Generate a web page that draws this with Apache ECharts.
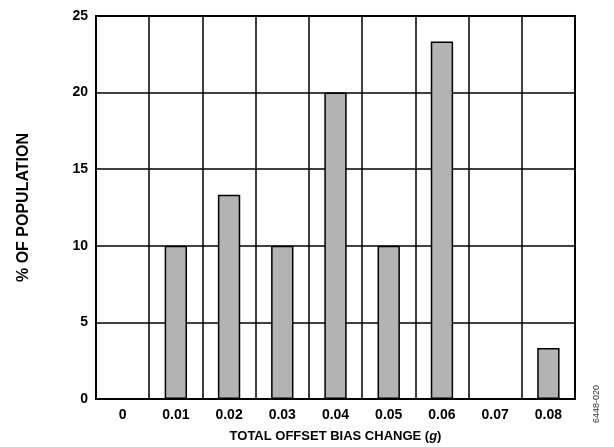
<!DOCTYPE html>
<html><head><meta charset="utf-8">
<script src="https://cdn.jsdelivr.net/npm/echarts@6/dist/echarts.min.js"></script>
<style>html,body{margin:0;padding:0;background:#fff}#c{width:614px;height:447px}</style>
</head><body><div id="c"></div>
<script>
const categories = ['0','0.01','0.02','0.03','0.04','0.05','0.06','0.07','0.08'];
const values = [0, 10, 13.33, 10, 20, 10, 23.33, 0, 3.33];
const yTicks = [0, 5, 10, 15, 20, 25];
const F = '"Liberation Sans", Arial, sans-serif';
const chart = echarts.init(document.getElementById('c'));
chart.setOption({
  animation: false,
  grid: {left: 96, right: 39, top: 16, bottom: 48, outerBoundsMode: 'none', containLabel: false,
    show: true, borderColor: '#000', borderWidth: 2, backgroundColor: 'transparent'},
  xAxis: {
    type: 'category', data: categories,
    axisLine: {show: true, lineStyle: {color: '#000', width: 2}},
    axisTick: {show: false},
    axisLabel: {color: '#000', fontFamily: F, fontWeight: 'bold', fontSize: 14, margin: 9},
    splitLine: {show: true, lineStyle: {color: '#000', width: 1.5}},
    name: '{a|TOTAL OFFSET BIAS CHANGE (}{b|g}{a|)}',
    nameLocation: 'middle', nameGap: 31,
    nameTextStyle: {rich: {
      a: {fontFamily: F, fontWeight: 'bold', fontSize: 13, color: '#000'},
      b: {fontFamily: F, fontWeight: 'bold', fontStyle: 'italic', fontSize: 13, color: '#000'}
    }}
  },
  yAxis: {
    type: 'value', min: 0, max: 25, interval: 5,
    axisLine: {show: true, lineStyle: {color: '#000', width: 2}},
    axisTick: {show: false},
    axisLabel: {color: '#000', fontFamily: F, fontWeight: 'bold', fontSize: 14, margin: 8,
      formatter: v => yTicks.includes(v) ? String(v) : ''},
    splitLine: {show: true, lineStyle: {color: '#000', width: 1.5}},
    name: '% OF POPULATION', nameLocation: 'middle', nameGap: 64,
    nameTextStyle: {color: '#000', fontFamily: F, fontWeight: 'bold', fontSize: 16}
  },
  series: [{
    type: 'bar', data: values, barWidth: '42%',
    itemStyle: {color: '#b3b3b3', borderColor: '#000', borderWidth: 1.5}
  }],
  graphic: [{
    type: 'text', left: 592, top: 385, rotation: Math.PI/2,
    style: {text: '6448-020', fill: '#333', font: '9px ' + F}
  }]
});
</script></body></html>
